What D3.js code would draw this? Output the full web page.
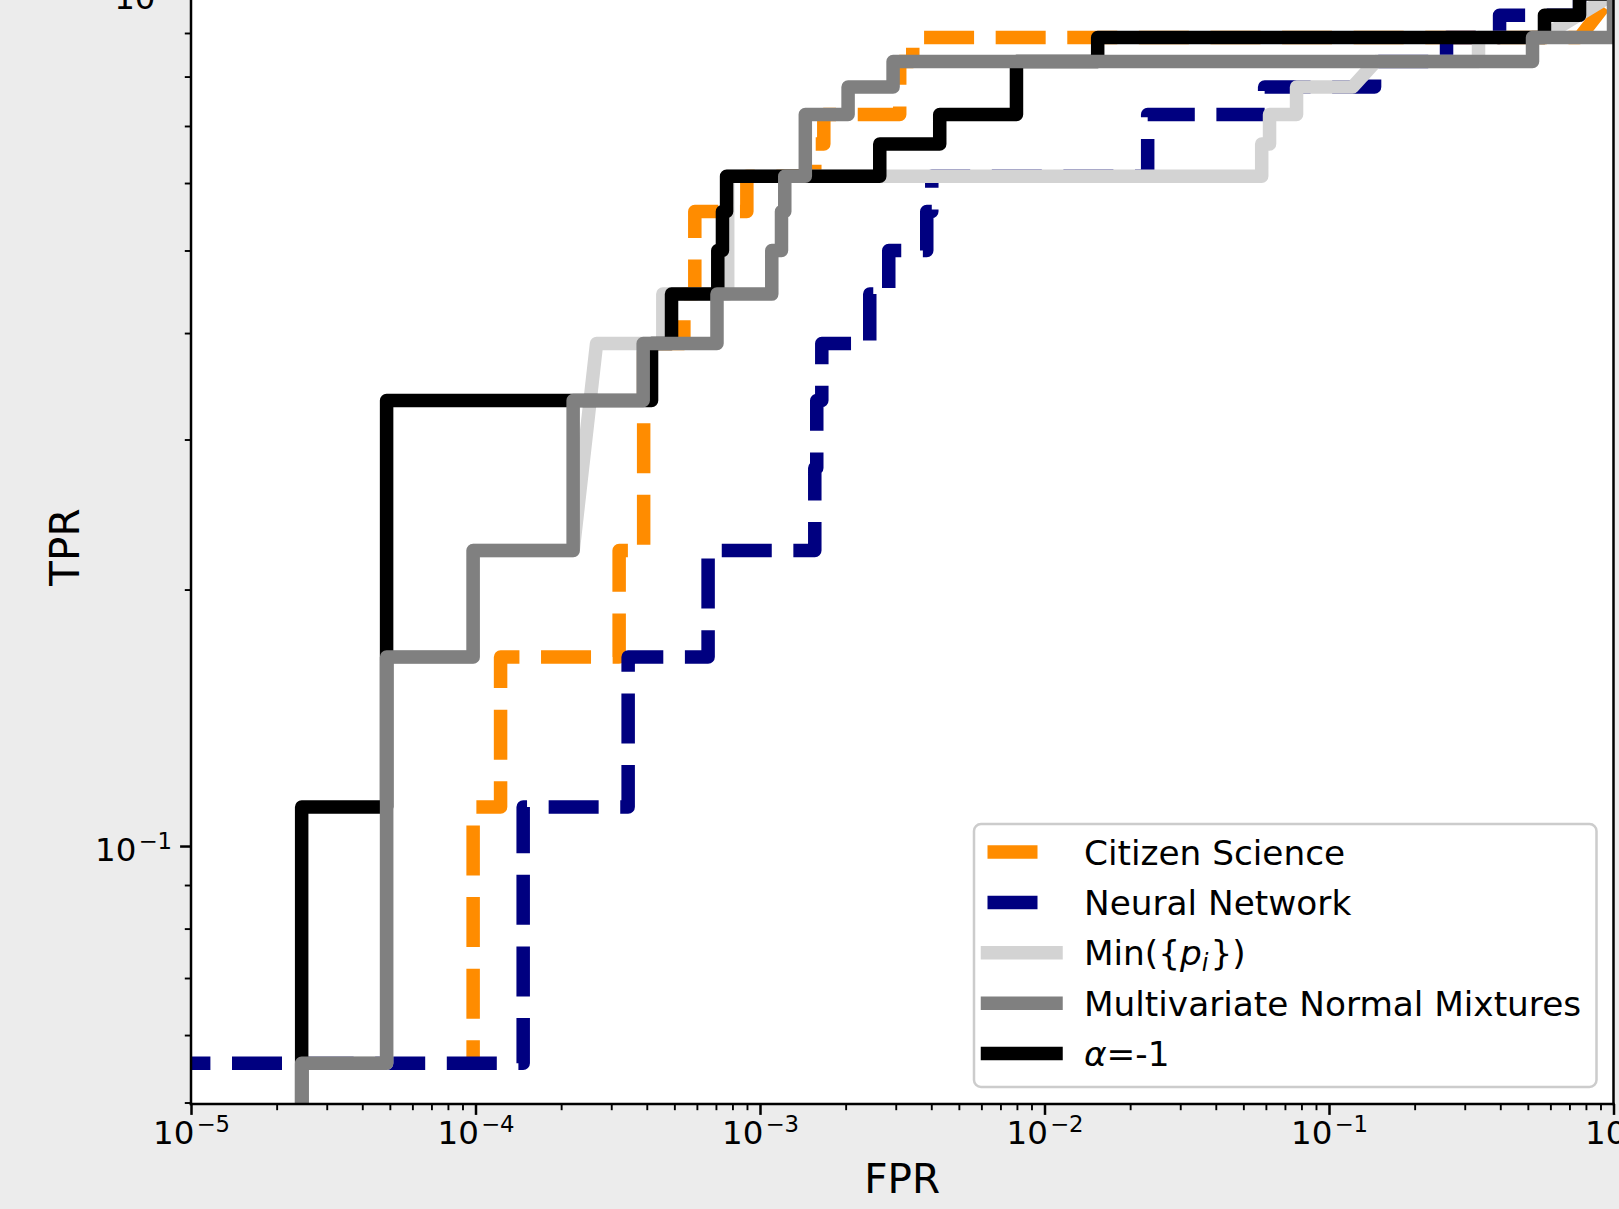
<!DOCTYPE html>
<html><head><meta charset="utf-8">
<script src="https://cdn.jsdelivr.net/npm/d3@7"></script>
<style>
html,body{margin:0;padding:0;background:#ececec;}
svg{display:block;}
text{font-family:"DejaVu Sans",sans-serif;fill:#000;}
</style></head><body>
<svg id="chart" width="1619" height="1209"></svg>
<script>
// ---------------- data ----------------
const seriesLabels = ["Citizen Science", "Neural Network", "Min({p_i})", "Multivariate Normal Mixtures", "α=-1"];
const seriesColors = ["#ff8c00", "#000080", "#d3d3d3", "#808080", "#000000"];
const seriesDashed = [true, true, false, false, false];

const citizenFPR = [9.81e-5, 9.81e-5, 1.225e-4, 1.225e-4, 3.198e-4, 3.198e-4, 3.90e-4, 3.90e-4, 5.40e-4, 5.40e-4, 5.90e-4, 5.90e-4, 8.99e-4, 8.99e-4, 1.558e-3, 1.558e-3, 1.676e-3, 1.676e-3, 3.098e-3, 3.098e-3, 3.443e-3, 3.443e-3, 0.7596, 1.0];
const citizenTPR = [0.0556, 0.1111, 0.1111, 0.1667, 0.1667, 0.2222, 0.2222, 0.3889, 0.3889, 0.4444, 0.4444, 0.5556, 0.5556, 0.6111, 0.6111, 0.6667, 0.6667, 0.7222, 0.7222, 0.8333, 0.8333, 0.8889, 0.8889, 1.0];

const neuralFPR = [0, 1.471e-4, 1.471e-4, 3.44e-4, 3.44e-4, 6.57e-4, 6.57e-4, 1.558e-3, 1.558e-3, 1.583e-3, 1.583e-3, 1.649e-3, 1.649e-3, 2.431e-3, 2.431e-3, 2.835e-3, 2.835e-3, 3.856e-3, 3.856e-3, 4.016e-3, 4.016e-3, 2.305e-2, 2.305e-2, 5.94e-2, 5.94e-2, 0.1446, 0.1446, 0.2589, 0.2589, 0.3977, 0.3977, 0.7596, 0.7596, 1.0];
const neuralTPR = [0.0556, 0.0556, 0.1111, 0.1111, 0.1667, 0.1667, 0.2222, 0.2222, 0.2778, 0.2778, 0.3333, 0.3333, 0.3889, 0.3889, 0.4444, 0.4444, 0.5, 0.5, 0.5556, 0.5556, 0.6111, 0.6111, 0.7222, 0.7222, 0.7778, 0.7778, 0.8333, 0.8333, 0.8889, 0.8889, 0.9444, 0.9444, 1.0, 1.0];

const minpFPR = [2.449e-5, 2.449e-5, 4.87e-5, 4.87e-5, 9.81e-5, 9.81e-5, 2.204e-4, 2.664e-4, 4.555e-4, 4.555e-4, 7.70e-4, 7.70e-4, 5.80e-2, 5.80e-2, 6.18e-2, 6.18e-2, 7.69e-2, 7.69e-2, 0.121, 0.146, 0.3354, 0.3354, 0.558, 1.0];
const minpTPR = [0, 0.0556, 0.0556, 0.1667, 0.1667, 0.2222, 0.2222, 0.3889, 0.3889, 0.4444, 0.4444, 0.6111, 0.6111, 0.6667, 0.6667, 0.7222, 0.7222, 0.7778, 0.7778, 0.8333, 0.8333, 0.8889, 0.8889, 1.0];

const mvnFPR = [2.449e-5, 2.449e-5, 4.87e-5, 4.87e-5, 9.81e-5, 9.81e-5, 2.204e-4, 2.204e-4, 3.885e-4, 3.885e-4, 7.06e-4, 7.06e-4, 1.10e-3, 1.10e-3, 1.19e-3, 1.19e-3, 1.222e-3, 1.222e-3, 1.443e-3, 1.443e-3, 2.04e-3, 2.04e-3, 2.936e-3, 2.936e-3, 0.5192, 0.5192, 1.0, 1.0];
const mvnTPR = [0, 0.0556, 0.0556, 0.1667, 0.1667, 0.2222, 0.2222, 0.3333, 0.3333, 0.3889, 0.3889, 0.4444, 0.4444, 0.5, 0.5, 0.5556, 0.5556, 0.6111, 0.6111, 0.7222, 0.7222, 0.7778, 0.7778, 0.8333, 0.8333, 0.8889, 0.8889, 1.0];

const alphaFPR = [2.449e-5, 2.449e-5, 4.87e-5, 4.87e-5, 4.157e-4, 4.157e-4, 4.887e-4, 4.887e-4, 7.106e-4, 7.106e-4, 7.38e-4, 7.38e-4, 7.63e-4, 7.63e-4, 2.636e-3, 2.636e-3, 4.283e-3, 4.283e-3, 7.97e-3, 7.97e-3, 1.538e-2, 1.538e-2, 0.572, 0.572, 0.7596, 0.7596, 1.0];
const alphaTPR = [0, 0.1111, 0.1111, 0.3333, 0.3333, 0.3889, 0.3889, 0.4444, 0.4444, 0.5, 0.5, 0.5556, 0.5556, 0.6111, 0.6111, 0.6667, 0.6667, 0.7222, 0.7222, 0.8333, 0.8333, 0.8889, 0.8889, 0.9444, 0.9444, 1.0, 1.0];

const xMajorTicks = [1e-5, 1e-4, 1e-3, 1e-2, 1e-1, 1];
const xTickExponents = ["−5", "−4", "−3", "−2", "−1", "0"];
const yMajorTicks = [0.1, 1];
const yTickExponents = ["−1", "0"];
const xLabel = "FPR", yLabel = "TPR";

// ---------------- layout ----------------
const svg = d3.select("#chart");
const L = 191, R = 1613.5, T = -10, B = 1104;
const x = d3.scaleLog().domain([1e-5, 1]).range([L, R]);
const y = d3.scaleLog().domain([0.0498, 1]).range([B, -6]);
const px = f => f > 0 ? x(f) : L - 317;     // non-positive values clipped off-axis (like matplotlib)
const py = t => t > 0 ? y(t) : B + 60;

svg.append("rect").attr("x", 0).attr("y", 0).attr("width", 1619).attr("height", 1209).attr("fill", "#ececec");
svg.append("rect").attr("x", L).attr("y", T).attr("width", R - L).attr("height", B - T).attr("fill", "#ffffff");

svg.append("defs").append("clipPath").attr("id", "clip")
  .append("rect").attr("x", L).attr("y", T).attr("width", R - L).attr("height", B - T);

const series = [
  {f: citizenFPR, t: citizenTPR, i: 0, off: 27},
  {f: neuralFPR, t: neuralTPR, i: 1, off: 0},
  {f: minpFPR, t: minpTPR, i: 2, off: 0},
  {f: alphaFPR, t: alphaTPR, i: 4, off: 0},
  {f: mvnFPR, t: mvnTPR, i: 3, off: 0}
];
const LW = 13.5, DASH = "50,21.6";
const line = d3.line().x(d => px(d[0])).y(d => py(d[1]));
const gLines = svg.append("g").attr("clip-path", "url(#clip)");
series.forEach(s => {
  const pts = s.f.map((f, k) => [f, s.t[k]]);
  const p = gLines.append("path").attr("d", line(pts))
    .attr("fill", "none").attr("stroke", seriesColors[s.i]).attr("stroke-width", LW)
    .attr("stroke-linejoin", "round");
  if (seriesDashed[s.i]) p.attr("stroke-dasharray", DASH).attr("stroke-linecap", "butt").attr("stroke-dashoffset", s.off);
  else p.attr("stroke-linecap", "square");
});

// ---------------- axes ----------------
const xMinor = [], yMinor = [];
for (let e = -5; e < 0; e++) for (let m = 2; m <= 9; m++) xMinor.push(m * Math.pow(10, e));
for (let e = -2; e < 0; e++) for (let m = 2; m <= 9; m++) { const v = m * Math.pow(10, e); if (v >= 0.0498 && v < 1) yMinor.push(v); }

const TICK_FS = 32.5, SUP_FS = 22.75;
function styleAxis(g, w) {
  g.select(".domain").remove();
  g.selectAll(".tick line").attr("stroke", "#000").attr("stroke-width", w);
}
const gxMin = svg.append("g").attr("transform", `translate(0,${B})`)
  .call(d3.axisBottom(x).tickValues(xMinor).tickSize(6.2).tickFormat(() => ""));
styleAxis(gxMin, 1.9);
const gx = svg.append("g").attr("transform", `translate(0,${B})`)
  .call(d3.axisBottom(x).tickValues(xMajorTicks).tickSize(10.9).tickFormat(() => ""));
styleAxis(gx, 2.5);
gx.selectAll(".tick text").each(function(d, i) {
  const t = d3.select(this).attr("y", 40).attr("dy", null).attr("font-size", TICK_FS)
    .attr("font-family", "DejaVu Sans").attr("text-anchor", "middle").attr("fill", "#000");
  t.text(null);
  t.append("tspan").text("10");
  t.append("tspan").attr("dx", 2).attr("dy", -12).attr("font-size", SUP_FS).text(xTickExponents[i]);
});

const gyMin = svg.append("g").attr("transform", `translate(${L},0)`)
  .call(d3.axisLeft(y).tickValues(yMinor).tickSize(6.2).tickFormat(() => ""));
styleAxis(gyMin, 1.9);
const gy = svg.append("g").attr("transform", `translate(${L},0)`)
  .call(d3.axisLeft(y).tickValues(yMajorTicks).tickSize(10.9).tickFormat(() => ""));
styleAxis(gy, 2.5);
gy.selectAll(".tick text").each(function(d, i) {
  const t = d3.select(this).attr("x", -19).attr("y", 14).attr("dy", null).attr("font-size", TICK_FS)
    .attr("font-family", "DejaVu Sans").attr("text-anchor", "end").attr("fill", "#000");
  t.text(null);
  t.append("tspan").text("10");
  t.append("tspan").attr("dx", 2).attr("dy", -12).attr("font-size", SUP_FS).text(yTickExponents[i]);
});

// spines
const sp = svg.append("g").attr("stroke", "#000").attr("stroke-width", 2.5).attr("stroke-linecap", "square");
sp.append("line").attr("x1", L).attr("x2", L).attr("y1", T).attr("y2", B);
sp.append("line").attr("x1", L).attr("x2", R).attr("y1", B).attr("y2", B);
sp.append("line").attr("x1", R).attr("x2", R).attr("y1", T).attr("y2", B);
sp.append("line").attr("x1", L).attr("x2", R).attr("y1", T).attr("y2", T);

// axis labels
svg.append("text").attr("x", (L + R) / 2).attr("y", 1193).attr("text-anchor", "middle")
  .attr("font-size", 40.5).text(xLabel);
svg.append("text").attr("transform", `translate(79,${(T + B) / 2}) rotate(-90)`).attr("text-anchor", "middle")
  .attr("font-size", 40.5).text(yLabel);

// ---------------- legend ----------------
const lg = svg.append("g");
lg.append("rect").attr("x", 974).attr("y", 824).attr("width", 1596.5 - 974).attr("height", 1087 - 824)
  .attr("rx", 7).attr("ry", 7).attr("fill", "#ffffff").attr("fill-opacity", 0.8)
  .attr("stroke", "#cccccc").attr("stroke-width", 2.5);
const rowY = d3.range(5).map(k => 852 + k * 50.4);
seriesLabels.forEach((lab, k) => {
  const yy = rowY[k];
  const h = lg.append("line").attr("x1", 987.5).attr("x2", 1056).attr("y1", yy).attr("y2", yy)
    .attr("stroke", seriesColors[k]).attr("stroke-width", LW);
  if (seriesDashed[k]) h.attr("stroke-dasharray", DASH).attr("stroke-linecap", "butt");
  else h.attr("stroke-linecap", "square");
  const t = lg.append("text").attr("x", 1084).attr("y", yy + 12.5).attr("font-size", 34.3);
  if (lab.indexOf("p_i") >= 0) {
    const parts = lab.split("p_i");
    t.append("tspan").text(parts[0]);
    t.append("tspan").attr("font-style", "italic").text("p");
    t.append("tspan").attr("font-style", "italic").attr("font-size", 24).attr("dy", 6).text("i");
    t.append("tspan").attr("dy", -6).attr("dx", 2).text(parts[1]);
  } else if (lab[0] === "α") {
    t.append("tspan").attr("font-style", "italic").text("α");
    t.append("tspan").text(lab.slice(1));
  } else {
    t.text(lab);
  }
});
</script>
</body></html>
